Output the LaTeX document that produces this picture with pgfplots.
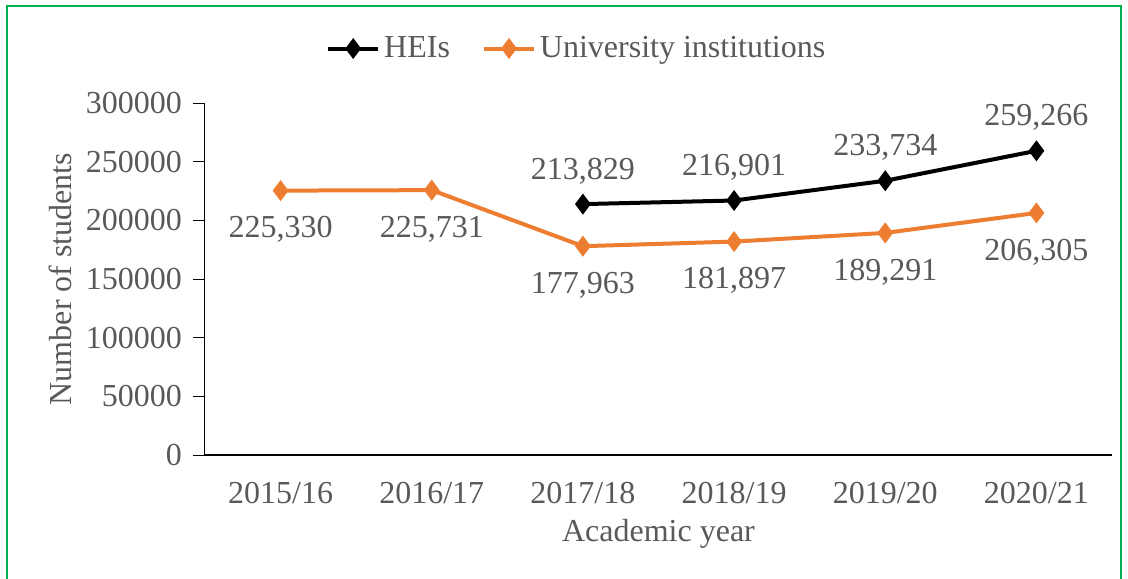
\documentclass[border=0pt]{standalone}
\usepackage{fontspec}
\setmainfont{Liberation Serif}
\usepackage{pgfplots}
\pgfplotsset{compat=1.18}
\usepackage{xcolor}
\definecolor{heiblack}{RGB}{0,0,0}
\definecolor{uniorange}{RGB}{237,125,49}
\definecolor{txtgray}{RGB}{89,89,89}
\definecolor{frame}{RGB}{0,176,80}

\begin{document}
\begin{tikzpicture}[font=\fontsize{16}{19}\selectfont]
% page = 1128x578 px at 0.5pt per px, axis lower-left at px (205,455)
\useasboundingbox (-102.5pt,-61.5pt) rectangle (461.5pt,227.5pt);
\draw[frame, line width=1pt] (-99pt,-65pt) rectangle (458pt,224.5pt);
\begin{axis}[
    at={(0pt,0pt)}, anchor=south west,
    scale only axis,
    width=453.5pt, height=176pt,
    xmin=-0.5, xmax=5.5,
    ymin=0, ymax=300000,
    xtick={0,1,2,3,4,5},
    xticklabels={2015/16,2016/17,2017/18,2018/19,2019/20,2020/21},
    ytick={0,50000,100000,150000,200000,250000,300000},
    scaled y ticks=false,
    /pgf/number format/.cd, fixed, 1000 sep={}, assume math mode=true, /pgfplots/.cd,
    axis x line*=bottom, axis y line*=left,
    x axis line style={line width=1pt, -},
    y axis line style={line width=0.5pt, -},
    x tick style={draw=none},
    y tick style={line width=0.5pt, black},
    tick align=outside,
    major tick length=6pt,
    ticklabel style={text=txtgray},
    yticklabel style={xshift=-2pt},
    xticklabel style={yshift=-4pt},
    xlabel={Academic year},
    ylabel={Number of students},
    label style={text=txtgray},
    xlabel style={yshift=-1pt},
    ylabel style={yshift=0pt},
    clip=false,
    legend columns=2,
    legend style={at={(0.411,1)}, anchor=south, yshift=17pt, draw=none, fill=none,
        text=txtgray, /tikz/every even column/.append style={column sep=14pt}},
    legend image code/.code={
        \draw[#1, mark repeat=2, mark phase=2] plot coordinates {(0pt,0pt) (12.5pt,0pt) (25pt,0pt)};},
]
\addplot[heiblack, line width=2pt, mark=diamond*, mark size=3.6pt,
    point meta=explicit symbolic, nodes near coords,
    every node near coord/.append style={text=txtgray, anchor=center, yshift=16.5pt, font=\fontsize{16}{19}\selectfont}]
    coordinates {(2,213829)[213,829] (3,216901)[216,901] (4,233734)[233,734] (5,259266)[259,266]};
\addlegendentry{HEIs}
\addplot[uniorange, line width=2pt, mark=diamond*, mark size=3.6pt,
    point meta=explicit symbolic, nodes near coords,
    every node near coord/.append style={text=txtgray, anchor=center, yshift=-19.5pt, font=\fontsize{16}{19}\selectfont}]
    coordinates {(0,225330)[225,330] (1,225731)[225,731] (2,177963)[177,963] (3,181897)[181,897] (4,189291)[189,291] (5,206305)[206,305]};
\addlegendentry{University institutions}
\end{axis}
\end{tikzpicture}
\end{document}
